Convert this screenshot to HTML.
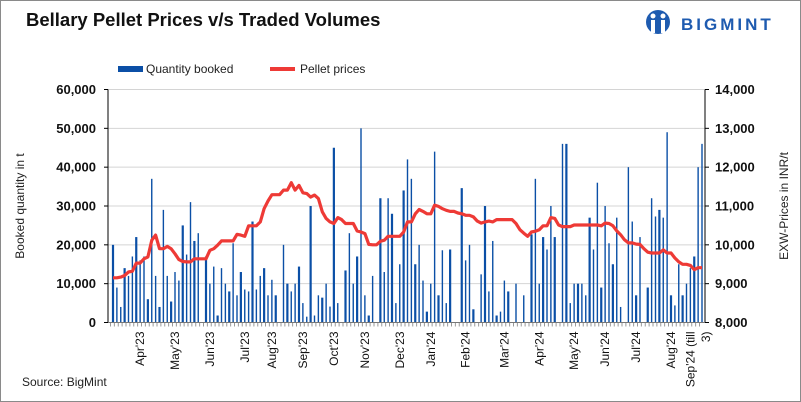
<!DOCTYPE html>
<html><head><meta charset="utf-8"><style>
body{margin:0;background:#fff;font-family:"Liberation Sans",Arial,sans-serif}
#wrap{position:relative;width:799px;height:400px;border:1px solid #8a8a8a;overflow:hidden}
svg{position:absolute;left:-1px;top:-1px}
</style></head><body>
<div id="wrap">
<svg id="chart" width="801" height="402">
<text x="26" y="26" font-size="18.5" font-weight="bold" fill="#111">Bellary Pellet Prices v/s Traded Volumes</text>
<g>
<circle cx="658" cy="22" r="12" fill="#1e5bb0"/>
<circle cx="653" cy="16" r="2.5" fill="#fff"/><circle cx="663" cy="16" r="2.5" fill="#fff"/>
<rect x="651" y="20" width="4" height="13" fill="#fff"/><rect x="661" y="20" width="4" height="13" fill="#fff"/>
<text x="681" y="30" font-size="17" font-weight="bold" fill="#1e5bb0" letter-spacing="3">BIGMINT</text>
</g>
<g>
<rect x="118" y="66" width="25" height="6" fill="#0b4fa6"/>
<text x="146" y="73" font-size="12" fill="#222">Quantity booked</text>
<rect x="270" y="67" width="25" height="4" fill="#ee3a36"/>
<text x="300" y="73" font-size="12" fill="#222">Pellet prices</text>
</g>
<g id="grid"></g><g id="bars"></g><g id="line"></g><g id="axes"></g>
<text transform="translate(24,206) rotate(-90)" text-anchor="middle" font-size="12" fill="#222">Booked quantity in t</text>
<text transform="translate(788,206) rotate(-90)" text-anchor="middle" font-size="12" fill="#222">EXW-Prices in INR/t</text>
<text x="22" y="386" font-size="12" fill="#222">Source: BigMint</text>
</svg></div>
<script>
const quantities=[20000,9000,4000,14000,12000,17000,22000,16000,17000,6000,37000,12000,4000,29000,12000,5400,13000,10800,25000,17500,31000,21000,23000,0,17000,10000,14400,1800,14000,10000,8000,20400,7000,13000,8500,8000,26000,8500,12000,14000,7000,11000,7000,0,20000,10000,8000,10000,14400,5000,1500,30000,1800,7000,6400,10000,4100,45000,5000,0,13400,23000,10000,17000,50000,7000,1800,12000,0,32000,13000,32000,28000,5000,15000,34000,42000,
37000,15000,20000,10800,2800,10000,44000,7000,18600,5000,18800,0,0,34600,16000,20000,3400,0,12400,30000,8000,21000,1800,2800,10800,8000,0,10000,0,7000,0,22700,37000,10000,22000,18800,30000,22000,0,46000,46000,5000,10000,10000,10000,7000,27000,18800,36000,9000,30000,20400,15000,27000,4000,0,40000,26000,7000,22000,0,9000,32000,27300,29000,27000,49000,7000,4400,15000,7000,10000,14000,17000,40000,46000];
const prices=[9150,9150,9170,9210,9300,9320,9530,9530,9640,9690,10120,10250,9900,9900,9960,9900,9770,9620,9570,9560,9560,9640,9640,9640,9640,9860,9900,9990,10100,10100,10100,10100,10270,10250,10220,10490,10490,10490,10590,10930,11130,11290,11290,11290,11410,11410,11600,11410,11530,11340,11320,11230,11280,11190,10850,10680,10590,10550,10700,10650,10550,10550,10550,10360,10330,10290,10010,10000,10000,10090,10120,10220,10220,10220,10220,10330,10590,
10590,10800,10910,10860,10800,10800,11020,10990,10930,10890,10860,10860,10820,10800,10760,10760,10720,10610,10560,10590,10610,10590,10650,10650,10650,10650,10650,10550,10390,10300,10220,10330,10350,10390,10490,10490,10700,10680,10510,10470,10470,10470,10510,10510,10510,10510,10510,10510,10510,10490,10560,10550,10490,10360,10260,10130,10050,10050,10020,10010,9900,9810,9790,9790,9790,9870,9790,9790,9660,9560,9500,9500,9470,9360,9410,9410];
const leftTicks=[0,10000,20000,30000,40000,50000,60000];
const rightTicks=[8000,9000,10000,11000,12000,13000,14000];
const monthLabels=["Apr'23","May'23","Jun'23","Jul'23","Aug'23","Sep'23","Oct'23","Nov'23","Dec'23","Jan'24","Feb'24","Mar'24","Apr'24","May'24","Jun'24","Jul'24","Aug'24","Sep'24 (till","3)"];
const monthIdx=[7,16,25,34,41,49,57,65,74,82,91,101,110,119,127,135,144,149,153];
const NS='http://www.w3.org/2000/svg';
const L=108,R=705,T=89.5,B=322.5;
const n=Math.min(quantities.length,prices.length);
const step=(R-L-8)/(n-1);
const xs=i=>L+5+i*step;
const yL=v=>B-(v/60000)*(B-T);
const yR=v=>B-((v-8000)/6000)*(B-T);
function mk(tag,at,par){const e=document.createElementNS(NS,tag);for(const k in at)e.setAttribute(k,at[k]);par.appendChild(e);return e;}
const grid=document.getElementById('grid'),bars=document.getElementById('bars'),line=document.getElementById('line'),axes=document.getElementById('axes');
leftTicks.forEach((v,i)=>{
 if(v>0){const g=mk('line',{x1:L,x2:R,y1:yL(v),y2:yL(v),stroke:'#d4d4d4','stroke-width':1},grid);
 
 }
 const t=mk('text',{x:L-12,y:yL(v)+4.5,'text-anchor':'end','font-size':13,'font-weight':'bold',fill:'#111'},axes);
 t.textContent=v.toLocaleString('en-US');
 
 
 mk('line',{x1:L-4,x2:L,y1:yL(v),y2:yL(v),stroke:'#000'},axes);
});
rightTicks.forEach(v=>{
 const t=mk('text',{x:R+10,y:yR(v)+4.5,'font-size':13,'font-weight':'bold',fill:'#111'},axes);
 t.textContent=v.toLocaleString('en-US');
 
 
 mk('line',{x1:R,x2:R+4,y1:yR(v),y2:yR(v),stroke:'#000'},axes);
});
for(let i=0;i<n;i++){
 const v=quantities[i];
 const w=(i%3===0)?2.2:1.4;
 if(v>0){const b=mk('rect',{x:xs(i)-w/2,y:yL(v),width:w,height:B-yL(v),fill:'#0b4fa6'},bars);
 
 }
 mk('line',{x1:xs(i)-2.5,x2:xs(i)-2.5,y1:B,y2:B+4,stroke:'#999','stroke-width':1},axes);
}
let d='';for(let i=0;i<n;i++)d+=(i?'L':'M')+xs(i).toFixed(1)+' '+yR(prices[i]).toFixed(1);
const p=mk('path',{d:d,fill:'none',stroke:'#ee3a36','stroke-width':3.2,'stroke-linejoin':'round'},line);


mk('line',{x1:L,x2:L,y1:T,y2:B,stroke:'#000'},axes);
mk('line',{x1:R,x2:R,y1:T,y2:B,stroke:'#000'},axes);
mk('line',{x1:L,x2:R,y1:B,y2:B,stroke:'#777'},axes);
monthLabels.forEach((s,k)=>{
 const x=xs(monthIdx[k])+4;
 const t=mk('text',{transform:'translate('+x+','+(B+9)+') rotate(-90)','text-anchor':'end','font-size':12,fill:'#111'},axes);
 t.textContent=s;
 
 
});
</script>
</body></html>
